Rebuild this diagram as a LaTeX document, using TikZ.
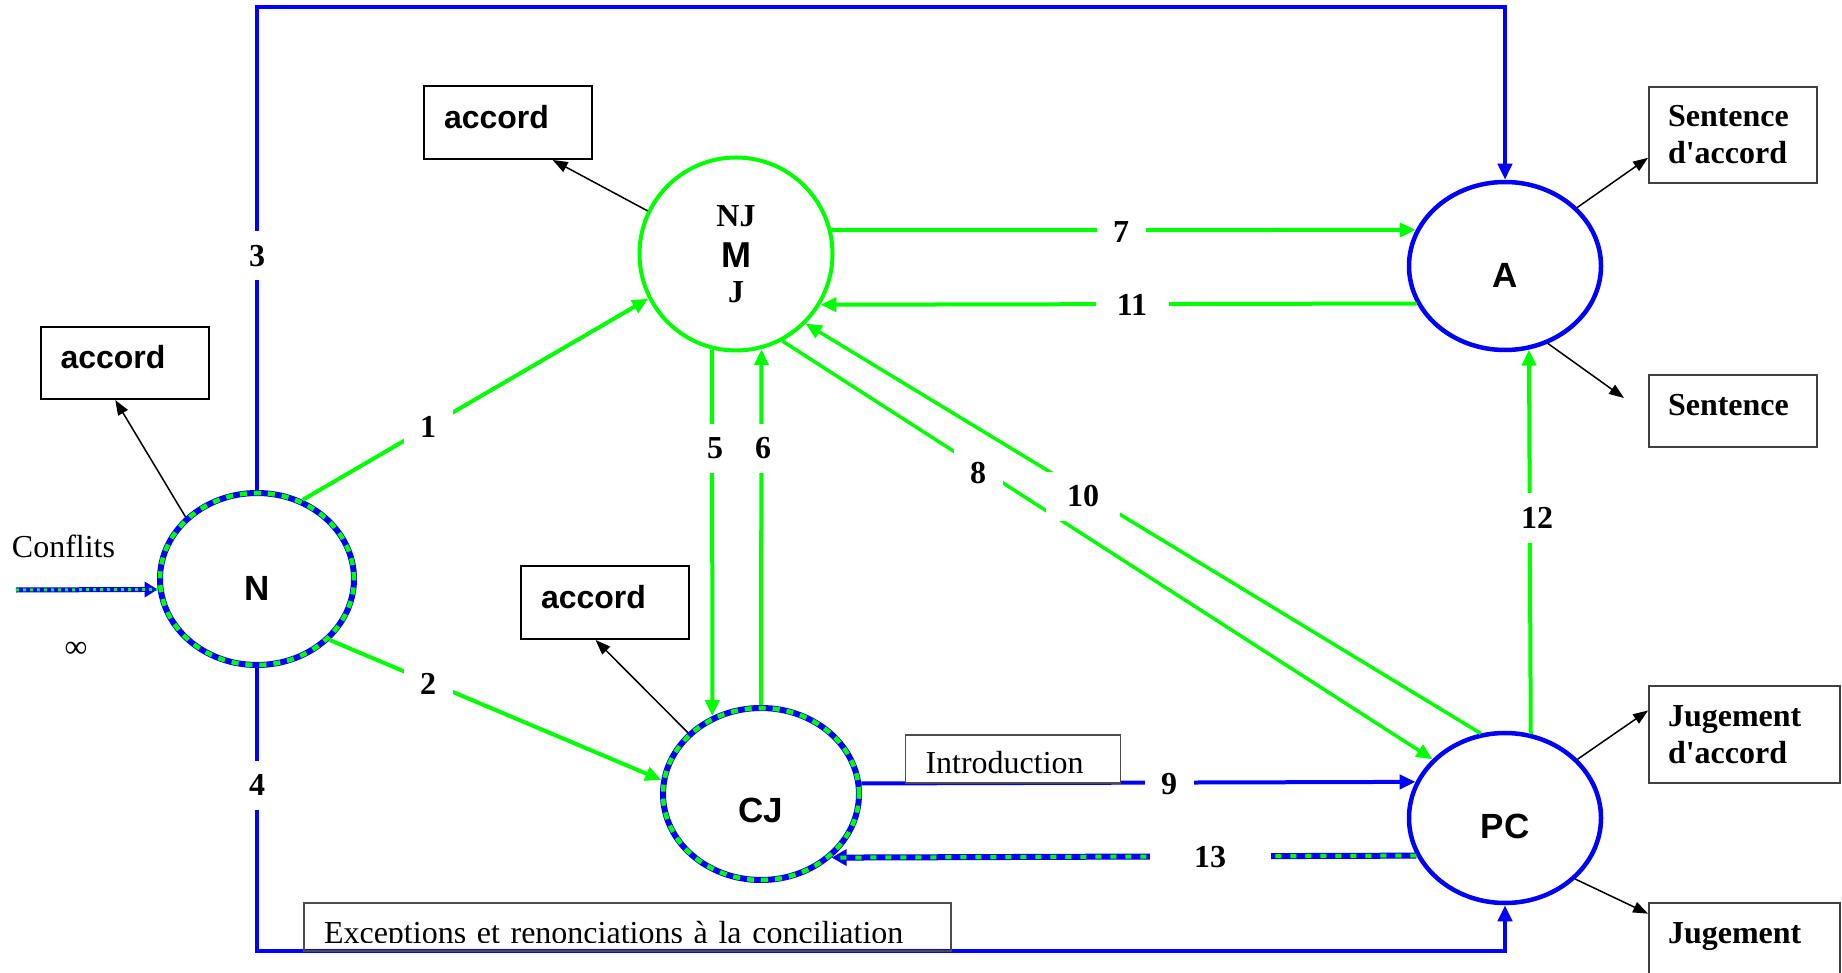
\documentclass[tikz,border=0pt]{standalone}
\usepackage{fontspec}
\setmainfont{Liberation Serif}[Ligatures=TeXOff]
\newfontfamily\arialf{Liberation Sans}
\usetikzlibrary{arrows.meta,shapes.geometric}
\definecolor{vert}{RGB}{0,255,0}
\definecolor{bleu}{RGB}{0,0,255}
\begin{document}
\begin{tikzpicture}[x=1pt,y=-1pt,
  gl/.style={draw=vert,line width=4pt},
  gla/.style={gl,-{Triangle[length=16pt,width=14pt]}},
  bla/.style={draw=bleu,line width=4pt,-{Triangle[length=16pt,width=14pt]}},
  hatch/.style={draw=bleu,line width=5pt,-{Triangle[length=13pt,width=15pt]},
    postaction={draw=vert,line width=3pt,dash pattern=on 3pt off 4pt,-}},
  hatchb/.style={draw=bleu,line width=6pt,-{Triangle[length=15pt,width=16pt]},
    postaction={draw=vert,line width=4pt,dash pattern=on 6pt off 9pt,-}},
  ka/.style={draw=black,line width=1.5pt,-{Triangle[length=15pt,width=11pt]}},
  lab/.style={fill=white,inner sep=0pt,minimum width=49pt,minimum height=49pt,
    font=\fontsize{32}{36}\selectfont\bfseries},
  ell/.style={ellipse,inner sep=0pt,font=\arialf\fontsize{35}{40}\selectfont\bfseries},
  gcirc/.style={ell,draw=vert,line width=4pt},
  bcirc/.style={ell,draw=bleu,line width=4.5pt},
  hcirc/.style={ell,draw=bleu,line width=6pt,
    postaction={draw=vert,line width=4.5pt,dash pattern=on 7pt off 7pt}},
  accbox/.style={draw=black,line width=2pt,fill=white,inner xsep=20pt,inner ysep=0pt,
    text width=128pt,align=left,minimum height=73pt,text depth=12pt,
    font=\arialf\fontsize{32}{36}\selectfont\bfseries},
  resbox/.style={draw=black!75,line width=1.8pt,fill=white,inner xsep=19pt,inner ysep=0pt,
    align=left,font=\fontsize{32}{37}\selectfont\bfseries},
  txtbox/.style={draw=black!70,line width=1.5pt,fill=white,inner xsep=20pt,inner ysep=0pt,
    align=left,font=\fontsize{32}{36}\selectfont},
  plain/.style={font=\fontsize{32}{36}\selectfont}
]
\useasboundingbox[fill=white] (0,0) rectangle (1842,973);

\coordinate (ytop) at (0,7);
\coordinate (ybot) at (0,951);
\coordinate (cin) at (16,590);
\coordinate (sfree) at (1624,398);

% circles
\node[hcirc,minimum width=194pt,minimum height=172pt,text height=43pt,text depth=0pt] (n) at (257,579) {N};
\node[hcirc,minimum width=196pt,minimum height=172pt,text height=57pt,text depth=0pt] (cj) at (761,794) {CJ};
\node[gcirc,minimum width=193pt,minimum height=193pt,align=center,
  font=\fontsize{32}{35}\selectfont\bfseries] (nj) at (736,254)
  {NJ\\[6pt]{\arialf\fontsize{36}{35}\selectfont M}\\J};
\node[bcirc,minimum width=192pt,minimum height=168pt,text height=43pt,text depth=0pt] (a) at (1505,266) {A};
\node[bcirc,minimum width=192pt,minimum height=170pt,text height=41pt,text depth=0pt] (pc) at (1505,818) {PC};

% boxes
\node[accbox] (acc1) at (508,122.5) {accord};
\node[accbox,minimum height=72pt] (acc2) at (124.5,363) {accord};
\node[accbox] (acc3) at (605,602.5) {accord};
\node[resbox,text width=130pt,minimum height=96pt] (sda) at (1733,135) {Sentence\\d'accord};
\node[resbox,text width=130pt,minimum height=72pt,text depth=12pt] (sent) at (1733,411) {Sentence};
\node[resbox,text width=153pt,minimum height=97pt] (jda) at (1744.5,734.5) {Jugement\\d'accord};
\node[resbox,text width=153pt,minimum height=73pt,text depth=12pt] (jug) at (1744.5,939.5) {Jugement};

\node[plain] (conf) at (63.5,546) {Conflits};
\node[plain] (inf) at (76,650) {∞};

% blue frame connectors
\draw[bla] (n.north) -- (n.north |- ytop) -| (a.north);
\draw[bla] (n.south) -- (n.south |- ybot) -| (pc.south);

% green connectors
\draw[gla] (n.60) -- (nj.207);
\draw[gla] (n.320) -- (cj.172);
\draw[gla] (nj.256.2) -- (cj.122.6);
\draw[gla] (cj.north) -- (nj.285);
\draw[gla] (nj.14) -- (a.158);
\draw[gla] (a.203.2) -- (nj.329.5);
\draw[gla,line width=3.5pt] (nj.298) -- (pc.141.4);
\draw[gla,line width=3.5pt] (pc.106.6) -- (nj.315.4);
\draw[gla] (pc.73.7) -- (a.286.5);
\draw[bla] (cj.6.5) -- (pc.158.2);
\draw[hatchb] (pc.203.2) -- (cj.318.6);
\draw[hatch] (cin) -- (n.186.5);

% black connectors
\draw[ka] (nj.154) -- (acc1.320);
\draw[ka] (n.139.7) -- (acc2.256);
\draw[ka] (cj.140.7) -- (acc3.256.5);
\draw[ka] (a.39.7) -- (sda.195.8);
\draw[ka] (a.299.7) -- (sfree);
\draw[ka] (pc.39.7) -- (jda.166.9);
\draw[ka] (pc.319.8) -- (jug.165.2);

% text boxes on lines
\node[txtbox,text width=175pt,minimum height=48pt,text height=28pt,text depth=0pt] (intro) at (1013,759) {Introduction};
\begin{scope}
  \clip (0,0) rectangle (1842,942);
  \node[txtbox,draw=none,outer sep=0pt,text width=607pt,minimum height=48pt,text height=32pt,text depth=0pt] (exc) at (627.5,927) {Exceptions et renonciations à la conciliation};
\end{scope}
\draw[draw=black!70,line width=1.5pt] (exc.south west) rectangle (exc.north east);

% labels
\node[lab] (l1) at (428,427) {1};
\node[lab] (l2) at (428,684) {2};
\node[lab] (l3) at (257,256) {3};
\node[lab] (l4) at (257,785) {4};
\node[lab] (l5) at (715,448) {5};
\node[lab] (l6) at (763,448) {6};
\node[lab] (l7) at (1121,232) {7};
\node[lab] (l8) at (978,473) {8};
\node[lab] (l9) at (1169,784) {9};
\node[lab,minimum width=74pt] (l10) at (1083,496) {10};
\node[lab,minimum width=73pt] (l11) at (1132,305) {11};
\node[lab,minimum width=40pt,minimum height=50pt] (l12) at (1537,518) {12};
\node[lab,minimum width=121pt] (l13) at (1210,857) {13};
\end{tikzpicture}
\end{document}
